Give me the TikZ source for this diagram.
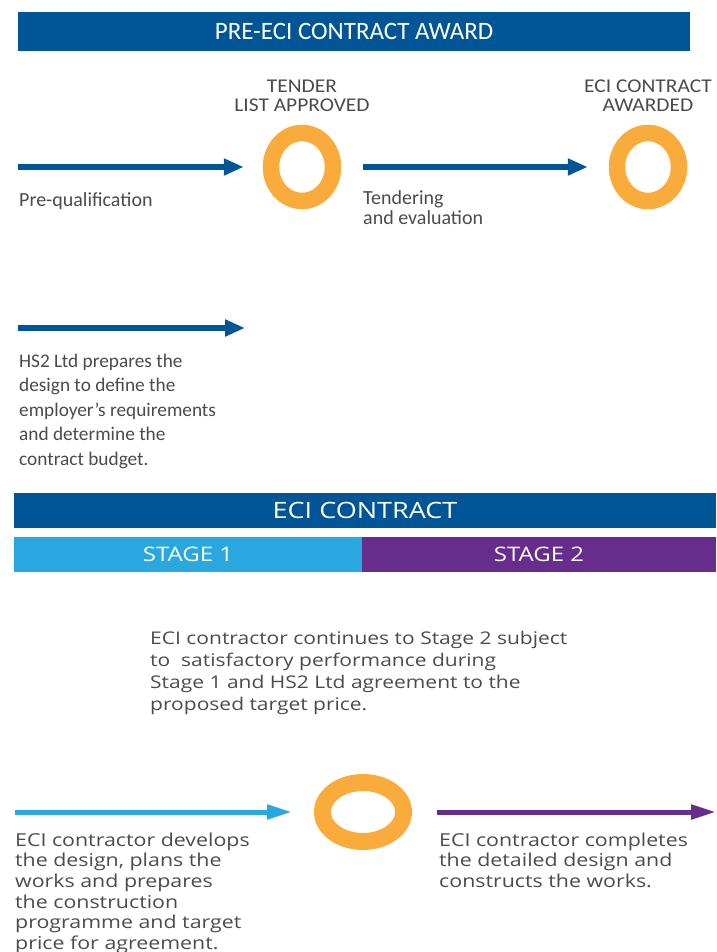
\documentclass[tikz,border=0pt]{standalone}
\usepackage{fontspec}
\setmainfont{Carlito}
\newfontfamily\headfont[FakeStretch=1.1]{Carlito}
\newfontfamily\widefont[FakeStretch=1.2]{Open Sans}
\usetikzlibrary{arrows.meta, shapes.geometric, positioning}

\definecolor{hsblue}{RGB}{0,85,150}
\definecolor{stageone}{RGB}{41,168,224}
\definecolor{stagetwo}{RGB}{102,45,140}
\definecolor{ringorange}{RGB}{249,172,59}
\definecolor{textgray}{RGB}{75,75,75}

\begin{document}
\begin{tikzpicture}[
            x = 1pt,
            y = -1pt,
            bar/.style = {rectangle, inner sep=0, text=white, minimum height=35pt},
            milestone/.style = {ellipse, draw=ringorange, line width=16.5pt, inner sep=0,
                                minimum width=62pt, minimum height=68pt},
            heading/.style = {text=textgray, align=center, inner sep=0, anchor=south,
                              font=\headfont\fontsize{19.5}{19}\selectfont},
            note/.style = {text=textgray, anchor=base west, inner sep=0, align=left,
                           font=\fontsize{20}{20}\selectfont},
            lownote/.style = {note, font=\widefont\fontsize{17.8}{20.7}\selectfont},
            flow/.style = {-{Triangle[length=20pt, width=16pt]}, line width=6pt, draw=hsblue},
            lowflow/.style = {-{Triangle[length=25pt, width=14pt]}, line width=5pt}
        ]
        \useasboundingbox (0,0) rectangle (716,952);

        % pre-ECI part
        \node[bar, fill=hsblue, minimum width=672pt, minimum height=39pt,
              font=\fontsize{25}{25}\selectfont] (award) at (354,31.5) {PRE-ECI CONTRACT AWARD};

        \node[milestone] (tender) at (302,167) {};
        \node[milestone] (awarded) at (648,167) {};
        \node[heading] (tenderlbl) at (302,112) {TENDER\\LIST APPROVED};
        \node[heading] (awardedlbl) at (648,112) {ECI CONTRACT\\AWARDED};

        \coordinate (pqstart) at (18,167);
        \draw[flow, shorten >=19pt] (pqstart) -- (tender);
        \draw[flow, shorten <=22pt, shorten >=21pt] (tender) -- (awarded);

        % base of a note = baseline of its last line
        \node[note] (pq) at (19,206) {Pre-qualification};
        \node[note] (tendering) at (363,224) {Tendering\\and evaluation};

        \coordinate (hsstart) at (18,328);
        \coordinate (hsend) at (245,328);
        \draw[flow] (hsstart) -- (hsend);
        \node[note, font=\fontsize{19.3}{24.5}\selectfont] (hsnote) at (19,465)
            {HS2 Ltd prepares the\\design to define the\\employer’s requirements\\and determine the\\contract budget.};

        % ECI contract part
        \node[bar, fill=hsblue, minimum width=702pt, font=\widefont\fontsize{22.5}{22.5}\selectfont] (eci) at (365,510.5) {ECI CONTRACT};
        \node[bar, fill=stageone, minimum width=348pt, font=\widefont\fontsize{20}{20}\selectfont] (stage1) at (188,554.5) {STAGE 1};
        \node[bar, fill=stagetwo, minimum width=354pt, font=\widefont\fontsize{20}{20}\selectfont] (stage2) at (539,554.5) {STAGE 2};

        \node[lownote, font=\widefont\fontsize{17.5}{21.7}\selectfont] (continues) at (150,710)
            {ECI contractor continues to Stage 2 subject\\to~ satisfactory performance during\\Stage 1 and HS2 Ltd agreement to the\\proposed target price.};

        \node[milestone, line width=17pt, minimum width=81pt, minimum height=59pt] (gate) at (363,812) {};

        \coordinate (s1start) at (15,812);
        \coordinate (s2end) at (716,812);
        \draw[lowflow, draw=stageone, shorten >=22pt] (s1start) -- (gate);
        \draw[lowflow, draw=stagetwo, shorten <=25pt] (gate) -- (s2end);

        \node[lownote] (develops) at (15,949.5) {ECI contractor develops\\the design, plans the\\works and prepares\\the construction\\programme and target\\price for agreement.};
        \node[lownote] (completes) at (439,887.4) {ECI contractor completes\\the detailed design and\\constructs the works.};
    \end{tikzpicture}
\end{document}
